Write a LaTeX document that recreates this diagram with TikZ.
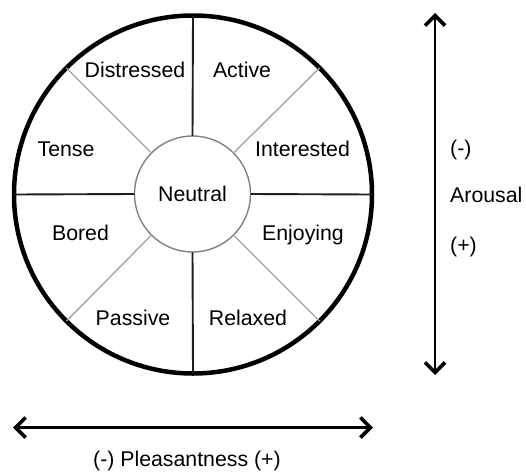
\documentclass[tikz,border=0pt]{standalone}
\usepackage{fontspec}
\setmainfont{Liberation Sans}
\usetikzlibrary{arrows.meta}
\begin{document}
\begin{tikzpicture}[x=1pt,y=-1pt,
  txt/.style={font=\fontsize{21.3}{25}\selectfont},
  lbl/.style={txt, anchor=base, inner sep=0pt},
  lblw/.style={txt, anchor=base west, inner sep=0pt},
  divider/.style={line width=1.9pt, black!88},
  spoke/.style={line width=1.4pt, black!35},
  barb/.tip={Straight Barb[length=10pt,width=20pt,line width=3.6pt]},
  axis/.style={line width=2.2pt, barb-barb}
]
\useasboundingbox (0,0) rectangle (526,471);
\node[circle, draw, line width=4.5pt, minimum size=358pt, inner sep=0pt, outer sep=0pt] (outer) at (193,194.5) {};
\node[circle, draw=black!50, line width=1.4pt, minimum size=116pt, inner sep=0pt, outer sep=0pt, txt] (inner) at (192.5,194) {Neutral};
\foreach \a in {0,90,180,270} \draw[divider] (inner.\a) -- (outer.\a);
\foreach \a in {45,135,225,315} \draw[spoke] (inner.\a) -- (outer.\a);
\node[lbl] (distressed) at (135,77.5) {Distressed};
\node[lbl] (active) at (242,77.5) {Active};
\node[lbl] (tense) at (66,156.5) {Tense};
\node[lbl] (interested) at (302.5,156.5) {Interested};
\node[lbl] (bored) at (80.5,240) {Bored};
\node[lbl] (enjoying) at (303,240) {Enjoying};
\node[lbl] (passive) at (133,325) {Passive};
\node[lbl] (relaxed) at (248,325) {Relaxed};
\coordinate (vtop) at (435,13);
\coordinate (vbot) at (435,375);
\draw[axis] (vbot) -- (vtop);
\coordinate (hl) at (13,427.5);
\coordinate (hr) at (373,427.5);
\draw[axis] (hl) -- (hr);
\node[lblw] (aminus) at (450,155) {(-)};
\node[lblw] (arousal) at (450,202.5) {Arousal};
\node[lblw] (aplus) at (450,252) {(+)};
\node[lbl] (pleas) at (187,466) {(-) Pleasantness (+)};
\end{tikzpicture}
\end{document}
